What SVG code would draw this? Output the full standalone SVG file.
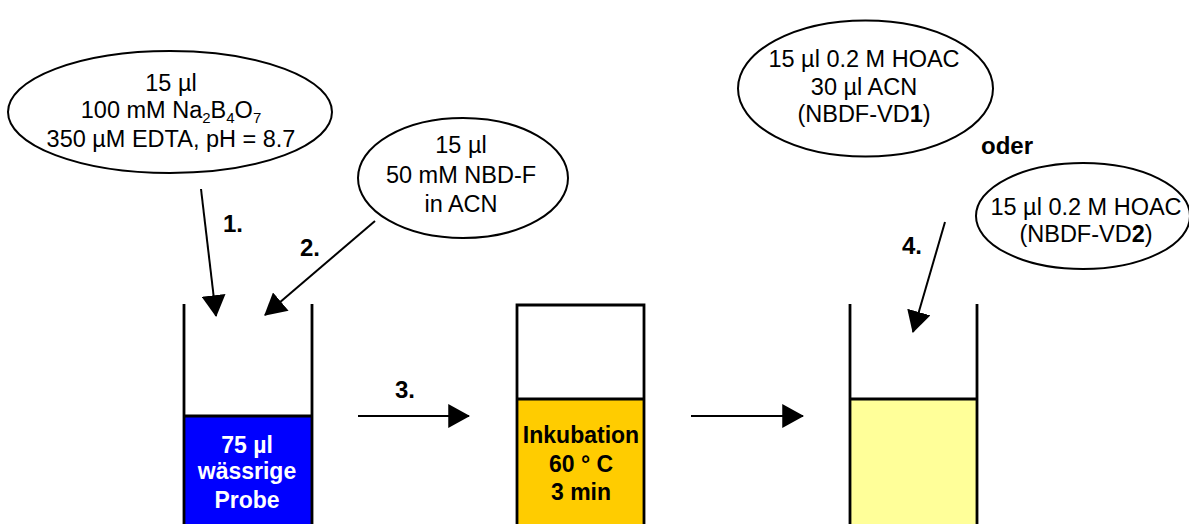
<svg xmlns="http://www.w3.org/2000/svg" width="1189" height="524" viewBox="0 0 1189 524">
<style>
.bub{fill:#fff;stroke:#000;stroke-width:2}
.t{font-family:"Liberation Sans",Arial,sans-serif;font-size:23.5px;fill:#000;text-anchor:middle}
.b{font-family:"Liberation Sans",Arial,sans-serif;font-size:23px;font-weight:bold;text-anchor:middle}
.lbl{font-family:"Liberation Sans",Arial,sans-serif;font-size:24px;font-weight:bold;fill:#000}
.wall{stroke:#000;stroke-width:2.8;fill:none}
.arr{stroke:#000;stroke-width:2;fill:none;marker-end:url(#ah)}
</style>
<defs>
<marker id="ah" markerUnits="userSpaceOnUse" markerWidth="22" markerHeight="24" viewBox="0 0 20 22" refX="19" refY="11" orient="auto">
<path d="M0,0 L20,11 L0,22 Z" fill="#000"/>
</marker>
</defs>

<g id="reagent1">
<ellipse class="bub" cx="170" cy="112" rx="162" ry="61"/>
<text class="t" x="171" y="91">15 µl</text>
<text class="t" x="171" y="118">100 mM Na<tspan font-size="15" dy="5">2</tspan><tspan dy="-5">B</tspan><tspan font-size="15" dy="5">4</tspan><tspan dy="-5">O</tspan><tspan font-size="15" dy="5">7</tspan></text>
<text class="t" x="171" y="147">350 µM EDTA, pH = 8.7</text>
</g>

<g id="reagent2">
<ellipse class="bub" cx="463" cy="178" rx="105" ry="60"/>
<text class="t" x="461" y="153">15 µl</text>
<text class="t" x="461" y="183">50 mM NBD-F</text>
<text class="t" x="461" y="212">in ACN</text>
</g>

<g id="reagent4a">
<ellipse class="bub" cx="865.5" cy="88.5" rx="127.5" ry="68"/>
<text class="t" x="864" y="67">15 µl 0.2 M HOAC</text>
<text class="t" x="864" y="95">30 µl ACN</text>
<text class="t" x="864" y="122">(NBDF-VD<tspan font-weight="bold">1</tspan>)</text>
</g>

<g id="oder">
<text class="lbl" x="981" y="154">oder</text>
</g>

<g id="reagent4b">
<ellipse class="bub" cx="1083" cy="216" rx="107" ry="53"/>
<text class="t" x="1086" y="215">15 µl 0.2 M HOAC</text>
<text class="t" x="1086" y="242">(NBDF-VD<tspan font-weight="bold">2</tspan>)</text>
</g>

<g id="tube1">
<rect x="184" y="416" width="128" height="110" fill="#0000FF"/>
<path class="wall" d="M184,304 V526 M312,304 V526 M184,416 H312"/>
<text class="b" x="247" y="453" fill="#fff">75 µl</text>
<text class="b" x="247" y="479" fill="#fff">wässrige</text>
<text class="b" x="247" y="508" fill="#fff">Probe</text>
</g>

<g id="tube2">
<rect x="517" y="399" width="127" height="127" fill="#FFCC00"/>
<path class="wall" d="M517,526 V305 H644 V526 M517,399 H644"/>
<text class="b" x="581" y="443" fill="#000">Inkubation</text>
<text class="b" x="581" y="472" fill="#000">60 ° C</text>
<text class="b" x="581" y="500" fill="#000">3 min</text>
</g>

<g id="tube3">
<rect x="850" y="399" width="127" height="127" fill="#FFFF99"/>
<path class="wall" d="M850,304 V526 M977,304 V526 M850,399 H977"/>
</g>

<g id="connectors">
<line class="arr" x1="201" y1="189" x2="216" y2="316"/>
<line class="arr" x1="375" y1="221" x2="265" y2="315"/>
<line class="arr" x1="358" y1="416" x2="469" y2="416"/>
<line class="arr" x1="691" y1="416" x2="803" y2="416"/>
<line class="arr" x1="945" y1="222" x2="913" y2="332"/>
<text class="lbl" x="223" y="232">1.</text>
<text class="lbl" x="300" y="256">2.</text>
<text class="lbl" x="395" y="398">3.</text>
<text class="lbl" x="902" y="254">4.</text>
</g>
</svg>
